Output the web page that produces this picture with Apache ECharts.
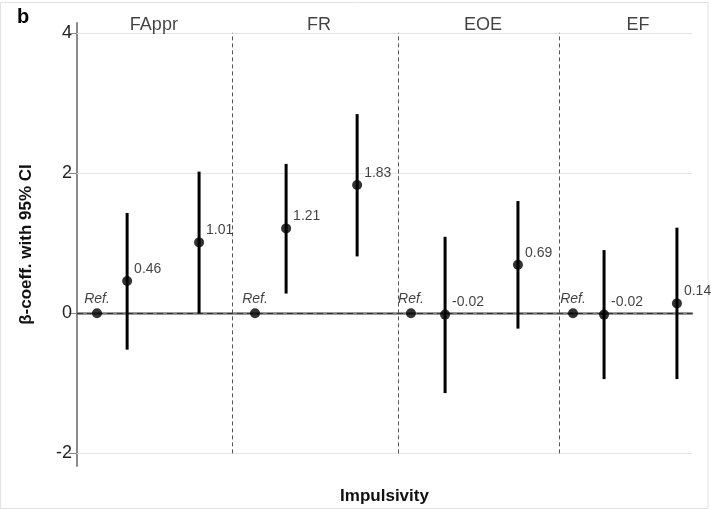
<!DOCTYPE html>
<html>
<head>
<meta charset="utf-8">
<script src="https://cdn.jsdelivr.net/npm/echarts@6/dist/echarts.min.js"></script>
<style>
  html, body { margin: 0; padding: 0; background: #fff; }
  #chart { width: 711px; height: 510px; }
</style>
</head>
<body>
<div id="chart"></div>
<script>
// ---- data ----
const panels = ['FAppr', 'FR', 'EOE', 'EF'];
const panelX = [2.5, 7.87, 13.2, 18.24];
const separatorX = [5.04, 10.44, 15.67];
const pointX = [0.65, 1.63, 3.97, 5.79, 6.80, 9.11, 10.86, 11.97, 14.34, 16.13, 17.14, 19.51];
const estimates = [0, 0.46, 1.01, 0, 1.21, 1.83, 0, -0.02, 0.69, 0, -0.02, 0.14];
const ciLow  = [null, -0.52, 0.00, null, 0.28, 0.81, null, -1.14, -0.22, null, -0.94, -0.94];
const ciHigh = [null, 1.43, 2.02, null, 2.13, 2.84, null, 1.09, 1.60, null, 0.90, 1.22];
const pointLabels = ['Ref.', '0.46', '1.01', 'Ref.', '1.21', '1.83', 'Ref.', '-0.02', '0.69', 'Ref.', '-0.02', '0.14'];
const yTicks = [-2, 0, 2, 4];
const gridYs = [-2, 2, 4];
const yTitle = 'β-coeff. with 95% CI';
const xTitle = 'Impulsivity';
const panelLetter = 'b';

const FONT = 'Liberation Sans, Arial, sans-serif';
const chart = echarts.init(document.getElementById('chart'), null, { renderer: 'canvas' });

const errData = pointX.map((x, i) => [x, ciLow[i], ciHigh[i]]).filter(d => d[1] !== null);
const scatterData = pointX.map((x, i) => {
  const isRef = pointLabels[i] === 'Ref.';
  return {
    value: [x, estimates[i]],
    label: isRef
      ? { show: true, formatter: pointLabels[i], position: 'top', distance: 2, fontStyle: 'italic' }
      : { show: true, formatter: pointLabels[i], position: 'right', distance: 2, offset: [0, -12] }
  };
});

const markLineData = []
  .concat(gridYs.map(v => ({ yAxis: v, lineStyle: { color: '#e4e4e4', width: 1, type: 'solid' } })))
  .concat([{ yAxis: 0, lineStyle: { color: '#333', width: 1.2, type: [6, 4] } }])
  .concat(separatorX.map(x => [
    { coord: [x, gridYs[0]], lineStyle: { color: '#555', width: 1, type: [4, 3] } },
    { coord: [x, gridYs[gridYs.length - 1]] }
  ]));

chart.setOption({
  animation: false,
  backgroundColor: '#fff',
  textStyle: { fontFamily: FONT },
  graphic: [
    { type: 'rect', shape: { x: 0.5, y: 2.5, width: 707.5, height: 506 }, style: { fill: 'none', stroke: '#e2e2e2', lineWidth: 1 }, silent: true, z: -10 },
    { type: 'text', left: 17, top: 7, style: { text: panelLetter, font: 'bold 20px ' + FONT, fill: '#000' } }
  ],
  grid: { left: 77, right: 19, top: 23, bottom: 42 },
  xAxis: {
    type: 'value', min: 0, max: 20,
    name: xTitle, nameLocation: 'middle', nameGap: 22,
    nameTextStyle: { fontWeight: 'bold', fontSize: 17, color: '#111', fontFamily: FONT },
    axisLine: { show: true, lineStyle: { color: '#7a7a7a', width: 2.5 } },
    axisTick: { show: false }, axisLabel: { show: false }, splitLine: { show: false }
  },
  yAxis: {
    type: 'value', min: -2.18, max: 4.14,
    name: yTitle, nameLocation: 'middle', nameGap: 42,
    nameTextStyle: { fontWeight: 'bold', fontSize: 17, color: '#111', fontFamily: FONT },
    axisLine: { show: true, lineStyle: { color: '#8a8a8a', width: 2 } },
    axisTick: { show: true, customValues: yTicks, length: 8, lineStyle: { color: '#8a8a8a', width: 1 } },
    axisLabel: { show: true, customValues: yTicks, margin: 5, fontSize: 18, color: '#222', fontFamily: FONT },
    splitLine: { show: false }
  },
  series: [
    {
      type: 'custom',
      name: 'ci',
      silent: true,
      z: 3,
      data: errData,
      encode: { x: 0, y: [1, 2] },
      renderItem: function (params, api) {
        const p1 = api.coord([api.value(0), api.value(1)]);
        const p2 = api.coord([api.value(0), api.value(2)]);
        return {
          type: 'line',
          shape: { x1: p1[0], y1: p1[1], x2: p2[0], y2: p2[1] },
          style: { stroke: '#000', lineWidth: 3 }
        };
      },
      markLine: {
        silent: true, symbol: ['none', 'none'], label: { show: false },
        z: 1,
        data: markLineData
      }
    },
    {
      type: 'scatter',
      name: 'est',
      z: 5,
      symbol: 'circle', symbolSize: 10,
      itemStyle: { color: '#000' },
      label: { color: '#111', fontSize: 14, fontFamily: FONT },
      data: scatterData
    },
    {
      type: 'scatter',
      name: 'titles',
      silent: true,
      symbolSize: 0,
      label: { show: true, position: 'top', distance: -1, fontSize: 18, color: '#111', fontFamily: FONT,
               formatter: p => panels[p.dataIndex] },
      data: panelX.map(x => [x, gridYs[gridYs.length - 1]])
    }
  ]
});
</script>
</body>
</html>
